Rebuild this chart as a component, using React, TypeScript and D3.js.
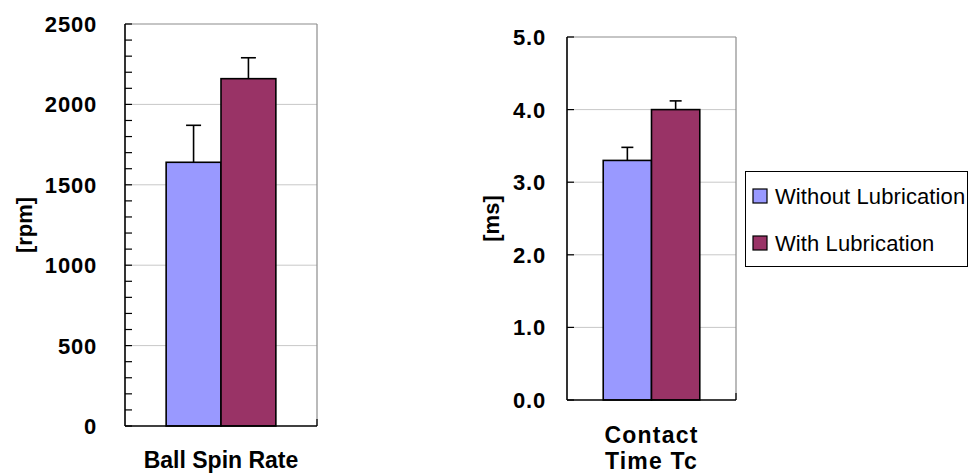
import * as d3 from "d3";

const WIDTH = 969;
const HEIGHT = 474;

const SERIES = ["Without Lubrication", "With Lubrication"];
const COLORS = ["#9999ff", "#993366"];

const SPIN_MEAN = [1640, 2160];
const SPIN_ERR = [230, 130];
const SPIN_TICKS = [0, 500, 1000, 1500, 2000, 2500];

const CONTACT_MEAN = [3.3, 4.0];
const CONTACT_ERR = [0.18, 0.12];
const CONTACT_TICKS = [0, 1, 2, 3, 4, 5];

const FONT = "'Liberation Sans', Arial, sans-serif";

type PanelProps = {
  box: { left: number; right: number; top: number; bottom: number };
  means: number[];
  errs: number[];
  ticks: number[];
  minorStep?: number;
  format: (v: number) => string;
  yLabel: string;
  yLabelX: number;
  labelGap: number;
  title: string[];
  titleY: number;
  capWidth: number;
};

function Panel({ box, means, errs, ticks, minorStep, format, yLabel, yLabelX, labelGap, title, titleY, capWidth }: PanelProps) {
  const y = d3
    .scaleLinear()
    .domain([ticks[0], ticks[ticks.length - 1]])
    .range([box.bottom, box.top]);
  const x = d3.scaleBand<string>().domain(SERIES).range([box.left, box.right]).paddingInner(0).paddingOuter(0.75);

  const minor = minorStep ? d3.range(ticks[0], ticks[ticks.length - 1] + minorStep / 2, minorStep) : ticks;
  const cx = (box.left + box.right) / 2;

  return (
    <g>
      {/* gridlines */}
      {ticks.slice(1, -1).map((t) => (
        <line key={"g" + t} x1={box.left} x2={box.right} y1={y(t)} y2={y(t)} stroke="#c8c8c8" strokeWidth={1} />
      ))}
      {/* frame: top + right grey */}
      <line x1={box.left} x2={box.right} y1={box.top} y2={box.top} stroke="#8c8c8c" strokeWidth={1.2} />
      <line x1={box.right} x2={box.right} y1={box.top} y2={box.bottom} stroke="#8c8c8c" strokeWidth={1.2} />

      {/* bars */}
      {SERIES.map((s, i) => (
        <rect
          key={s}
          x={x(s)}
          y={y(means[i])}
          width={x.bandwidth()}
          height={box.bottom - y(means[i])}
          fill={COLORS[i]}
          stroke="#000"
          strokeWidth={1.6}
        />
      ))}
      {/* error bars (upper) */}
      {SERIES.map((s, i) => {
        const bx = (x(s) ?? 0) + x.bandwidth() / 2;
        const top = y(means[i] + errs[i]);
        return (
          <g key={"e" + s} stroke="#000" strokeWidth={1.6}>
            <line x1={bx} x2={bx} y1={y(means[i])} y2={top} />
            <line x1={bx - capWidth / 2} x2={bx + capWidth / 2} y1={top} y2={top} />
          </g>
        );
      })}

      {/* axes */}
      <line x1={box.left} x2={box.left} y1={box.top} y2={box.bottom} stroke="#000" strokeWidth={1.6} />
      <line x1={box.left} x2={box.right} y1={box.bottom} y2={box.bottom} stroke="#000" strokeWidth={1.6} />
      {minor.map((t) => (
        <line key={"t" + t} x1={box.left} x2={box.left + 7} y1={y(t)} y2={y(t)} stroke="#000" strokeWidth={1.2} />
      ))}
      <line x1={box.right} x2={box.right} y1={box.bottom} y2={box.bottom - 7} stroke="#000" strokeWidth={1.2} />

      {ticks.map((t) => (
        <text
          key={"l" + t}
          x={box.left - labelGap}
          y={y(t)}
          dy="0.36em"
          textAnchor="end"
          fontFamily={FONT}
          fontWeight="bold"
          fontSize={22}
          letterSpacing={0.8}
        >
          {format(t)}
        </text>
      ))}

      <text
        transform={`translate(${yLabelX}, ${(box.top + box.bottom) / 2}) rotate(-90)`}
        dy="0.36em"
        textAnchor="middle"
        fontFamily={FONT}
        fontWeight="bold"
        fontSize={22}
      >
        {yLabel}
      </text>

      {title.map((line, i) => (
        <text
          key={line}
          x={cx}
          y={titleY + i * 26}
          textAnchor="middle"
          fontFamily={FONT}
          fontWeight="bold"
          fontSize={23}
          letterSpacing={title.length > 1 ? 1.2 : 0}
        >
          {line}
        </text>
      ))}
    </g>
  );
}

export default function App() {
  return (
    <div style={{ position: "absolute", left: 0, top: 0 }}>
      <svg width={WIDTH} height={HEIGHT} style={{ display: "block", background: "#fff" }}>
        <Panel
          box={{ left: 125, right: 317, top: 24, bottom: 426 }}
          means={SPIN_MEAN}
          errs={SPIN_ERR}
          ticks={SPIN_TICKS}
          minorStep={100}
          format={(v) => String(v)}
          yLabel="[rpm]"
          yLabelX={24}
          labelGap={28}
          title={["Ball Spin Rate"]}
          titleY={468}
          capWidth={15}
        />
        <Panel
          box={{ left: 567, right: 736, top: 37, bottom: 400 }}
          means={CONTACT_MEAN}
          errs={CONTACT_ERR}
          ticks={CONTACT_TICKS}
          format={(v) => v.toFixed(1)}
          yLabel="[ms]"
          yLabelX={491}
          labelGap={21}
          title={["Contact", "Time Tc"]}
          titleY={443}
          capWidth={12}
        />

        {/* legend */}
        <g>
          <rect x={745.5} y={171.5} width={222} height={95} fill="#fff" stroke="#000" strokeWidth={1} />
          {SERIES.map((s, i) => (
            <g key={s} transform={`translate(753, ${189 + i * 47})`}>
              <rect x={0} y={0} width={14} height={14} fill={COLORS[i]} stroke="#000" strokeWidth={1.2} />
              <text x={22} y={14.5} fontFamily={FONT} fontSize={22} letterSpacing={0.1}>
                {s}
              </text>
            </g>
          ))}
        </g>
      </svg>
    </div>
  );
}
